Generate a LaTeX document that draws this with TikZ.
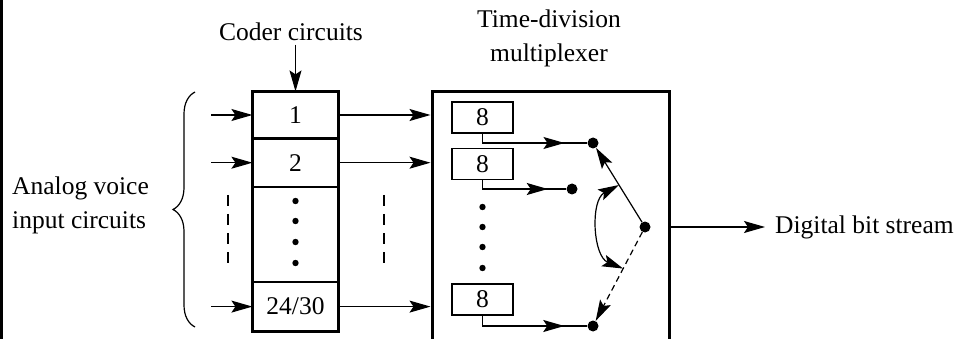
\documentclass[tikz,border=0pt]{standalone}
\usepackage{fontspec}
\setmainfont{Liberation Serif}
\newfontfamily\labelfont{Liberation Serif}
\usetikzlibrary{arrows.meta,positioning,calc,decorations.pathreplacing,decorations.markings}

\begin{document}
\begin{tikzpicture}[x=1pt, y=-1pt, > = {Stealth[length=21pt,width=12pt,inset=4pt]},
    font=\labelfont\fontsize{25.5}{34}\selectfont,
    wire/.style = {line width=1.2pt},
    row/.style = {draw, line width=1.2pt, minimum width=85pt, inner sep=0pt},
    cell/.style = {draw, line width=1.2pt, minimum width=61pt, minimum height=31pt, inner sep=0pt},
    dot/.style = {circle, fill, inner sep=0pt, minimum size=11pt},
    gap/.style = {line width=2.2pt, dash pattern=on 11pt off 8pt},
    flow/.style = {wire, postaction={decorate}, decoration={markings, mark=at position #1 with {\arrow{>}}}}]

    \useasboundingbox (0,0) rectangle (958,339);
    \draw[line width=2.5pt] (1.25,0) -- (1.25,339);

    % coder circuits
    \node[row, minimum height=46pt] (c1) at (295.5,115) {1};
    \node[row, minimum height=47pt, below=0pt of c1] (c2) {2};
    \node[row, minimum height=94pt, below=0pt of c2] (cdots) {};
    \node[row, minimum height=48pt, below=0pt of cdots] (c24) {24/30};
    \draw[line width=3pt] (c1.north west) rectangle (c24.south east);
    \foreach \y in {201,221,242,263} \fill (cdots.center |- 0,\y) circle (3.2pt);
    \node (clabel) at (291,32) {Coder circuits};
    \draw[wire,->] (clabel.south -| c1.north) -- (c1.north);

    % inputs
    \node[anchor=west, align=left, inner sep=0pt] (alabel) at (12,205) {Analog voice\\input circuits};
    \draw[wire, decorate, decoration={brace, amplitude=22pt}] (195,327) -- (195,92);
    \foreach \r in {c1,c2,c24} \draw[wire,<-] (\r.west) -- ++(-41,0);
    \draw[gap] (228,195) -- (228,268);
    \draw[gap] (384,195) -- (384,268);

    % multiplexer
    \node[draw, line width=3pt, minimum width=237pt, minimum height=270pt] (mux) at (550.5,227) {};
    \node[align=center] (mlabel) at (549,38) {Time-division\\multiplexer};
    \foreach \r in {c1,c2,c24} \draw[wire,->] (\r.east) -- (\r.east -| mux.west);

    \node[cell] (b1) at (482.5,117.5) {8};
    \node[cell] (b2) at (482.5,164) {8};
    \node[cell] (b3) at (482.5,299.5) {8};
    \foreach \y in {207,227,247,268} \fill (b1.center |- 0,\y) circle (3.2pt);

    \node[dot] (d1) at (593,143) {};
    \node[dot] (d2) at (572,189) {};
    \node[dot] (d3) at (593,326) {};
    \node[dot] (p) at (645,227) {};
    \draw[flow=0.8] (b1.south) |- (d1);
    \draw[flow=0.8] (b2.south) |- (d2);
    \draw[flow=0.8] (b3.south) |- (d3);

    % switch
    \draw[wire,->] (p) -- (d1);
    \draw[wire,->,dash pattern=on 6pt off 4pt] (p) -- (d3);
    \draw[wire,<->] ($(p)!0.5!(d1)$) to[bend right=65] ($(p)!0.42!(d3)$);

    % output
    \node[anchor=west, inner sep=0pt] (out) at (775,227) {Digital bit stream};
    \draw[wire,->,shorten >=10pt] (mux.east) -- (out.west);

\end{tikzpicture}
\end{document}
